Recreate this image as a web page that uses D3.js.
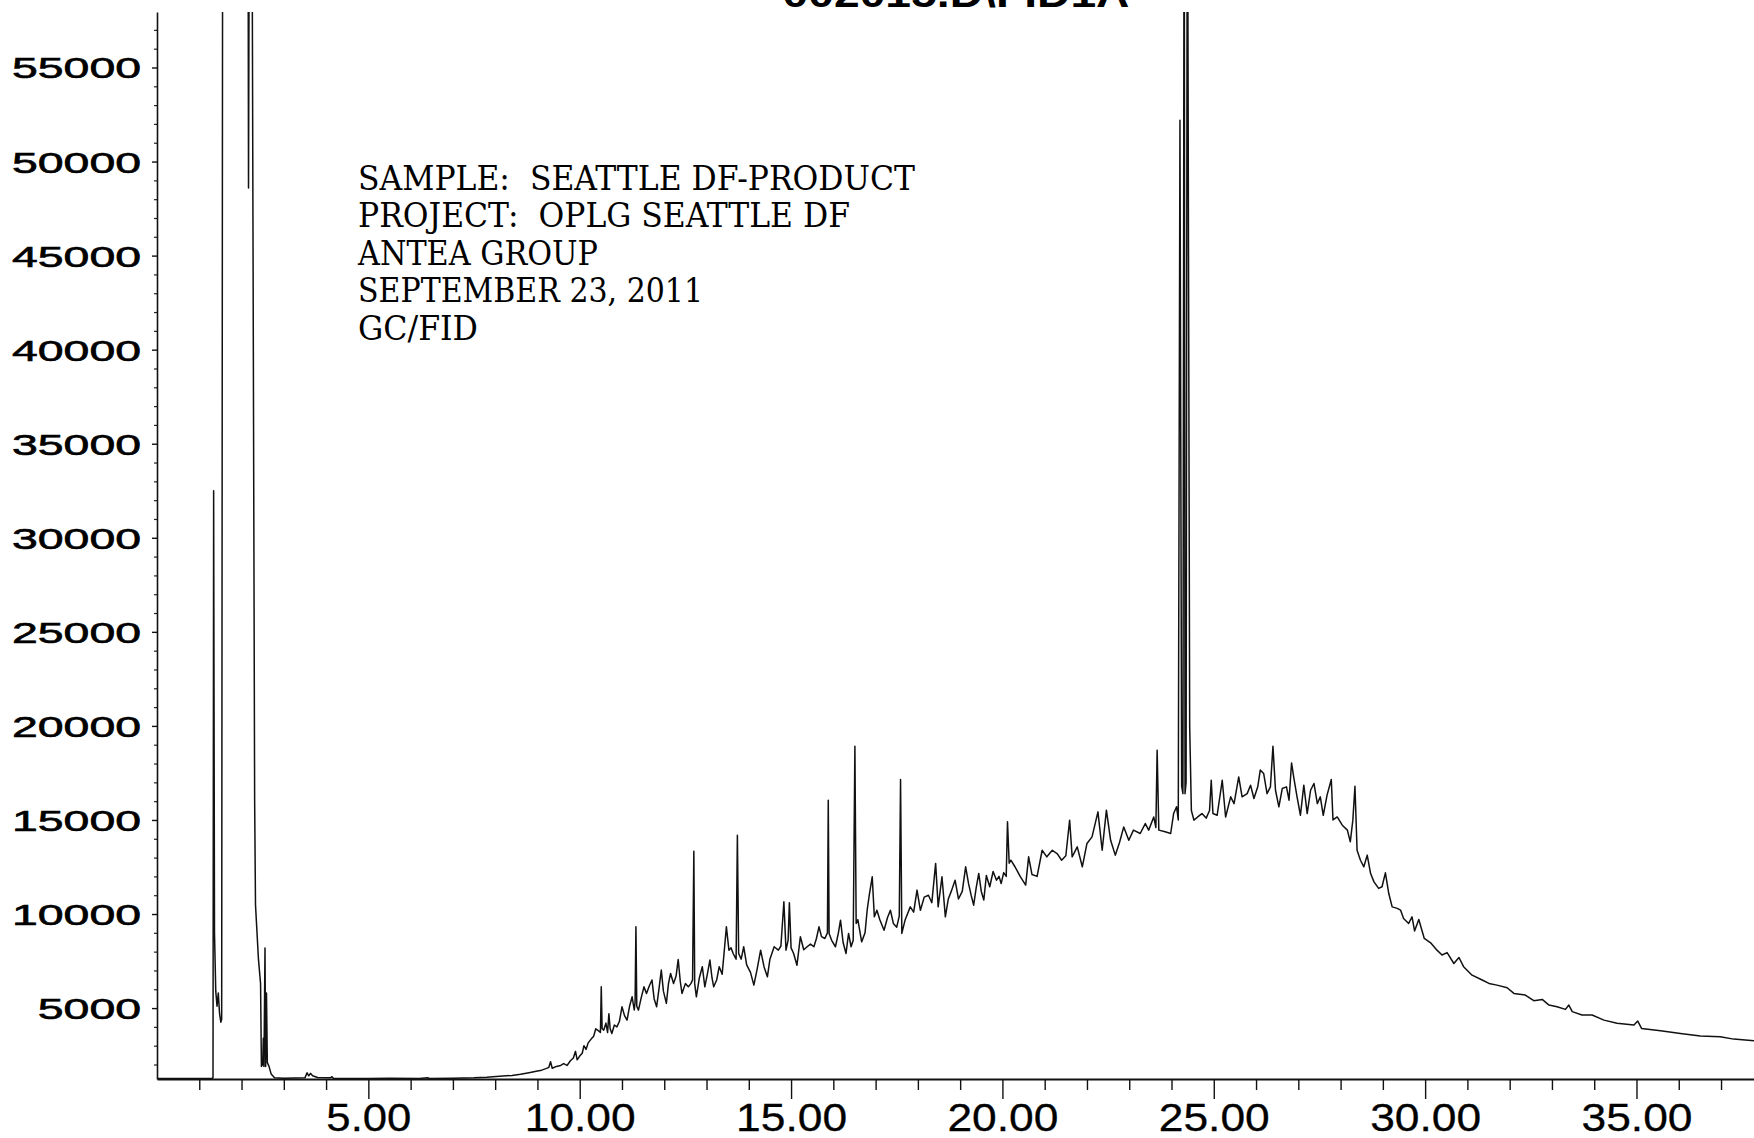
<!DOCTYPE html>
<html>
<head>
<meta charset="utf-8">
<script src="https://cdn.jsdelivr.net/npm/d3@7"></script>
<style>
  body { margin: 0; background: #fff; }
  svg { display: block; }
</style>
</head>
<body>
<div id="chromatogram"></div>
<script>
// retention time (min) and detector response
const retentionTime = [
  0.00, 1.30, 1.325, 1.34, 1.36, 1.39, 1.42, 1.45, 1.48, 1.51, 1.53, 1.555,
  2.15, 2.165, 2.19, 2.24, 2.27, 2.31, 2.33, 2.40, 2.45, 2.47, 2.50, 2.515, 2.53, 2.555, 2.57, 2.59, 2.61, 2.65, 2.70, 2.78,
  3.00, 3.50, 3.55, 3.59, 3.63, 3.68, 3.80, 4.10, 4.14, 4.17, 5.00, 5.50, 6.20, 6.40, 6.45, 7.00, 7.50, 7.80,
  8.10, 8.40, 8.60, 8.80, 9.00, 9.10, 9.20, 9.27, 9.31, 9.35, 9.45, 9.55, 9.62, 9.70, 9.78, 9.85, 9.90, 9.94,
  10.00, 10.06, 10.10, 10.15, 10.20, 10.27, 10.33, 10.38, 10.44, 10.49, 10.51, 10.53, 10.57, 10.62, 10.66, 10.69, 10.72, 10.76, 10.82, 10.88, 10.94,
  11.00, 11.06, 11.12, 11.18, 11.24, 11.29, 11.31, 11.33, 11.35, 11.39, 11.45, 11.52, 11.58, 11.65, 11.71, 11.76, 11.82, 11.88, 11.93, 11.98,
  12.05, 12.10, 12.15, 12.22, 12.28, 12.33, 12.38, 12.42, 12.50, 12.57, 12.63, 12.67, 12.70, 12.72, 12.76, 12.83, 12.90, 12.96,
  13.02, 13.08, 13.13, 13.17, 13.24, 13.30, 13.37, 13.43, 13.47, 13.53, 13.58, 13.63, 13.70, 13.73, 13.76, 13.82, 13.88, 13.95,
  14.04, 14.12, 14.20, 14.28, 14.36, 14.44, 14.50, 14.60, 14.70, 14.76, 14.83, 14.88, 14.93, 14.96,
  15.00, 15.06, 15.14, 15.22, 15.30, 15.38, 15.46, 15.54, 15.60, 15.66, 15.72, 15.80, 15.86, 15.88, 15.90, 15.96,
  16.05, 16.12, 16.17, 16.23, 16.30, 16.36, 16.42, 16.47, 16.51, 16.54, 16.58, 16.67, 16.75, 16.80, 16.85, 16.92, 16.97,
  17.03, 17.10, 17.20, 17.28, 17.35, 17.42, 17.50, 17.56, 17.59, 17.62, 17.70, 17.82, 17.90, 17.98,
  18.06, 18.15, 18.25, 18.33, 18.42, 18.48, 18.57, 18.65, 18.72, 18.80, 18.88, 18.96,
  19.05, 19.13, 19.20, 19.26, 19.32, 19.38, 19.44, 19.50, 19.56, 19.62, 19.70, 19.78, 19.86, 19.92, 19.97,
  20.03, 20.09, 20.12, 20.16, 20.20, 20.30, 20.42, 20.55, 20.62, 20.70, 20.82, 20.94,
  21.05, 21.18, 21.30, 21.40, 21.50, 21.59, 21.65, 21.77, 21.89, 22.00, 22.12, 22.26, 22.36, 22.46, 22.56, 22.67, 22.77, 22.87, 22.99,
  23.10, 23.26, 23.38, 23.46, 23.58, 23.63, 23.66, 23.70, 23.85, 23.98,
  24.05, 24.12, 24.16, 24.20, 24.24, 24.27, 24.30, 24.32, 24.345, 24.375, 24.43, 24.47, 24.53, 24.62, 24.72, 24.82, 24.90, 24.94, 24.98,
  25.08, 25.20, 25.28, 25.40, 25.48, 25.59, 25.67, 25.79, 25.87, 25.95,
  26.04, 26.10, 26.18, 26.26, 26.34, 26.40, 26.46, 26.54, 26.62, 26.72, 26.78, 26.84, 26.89, 26.97,
  27.05, 27.13, 27.21, 27.29, 27.37, 27.45, 27.52, 27.59, 27.68, 27.78, 27.82, 27.92,
  28.04, 28.16, 28.23, 28.29, 28.34, 28.39, 28.47, 28.55, 28.63, 28.71, 28.79, 28.90, 28.98,
  29.06, 29.14, 29.22, 29.34, 29.42, 29.49, 29.61, 29.69, 29.75, 29.85, 29.98,
  30.13, 30.28, 30.40, 30.52, 30.68, 30.80, 30.91, 31.11, 31.35, 31.51, 31.70, 31.94,
  32.10, 32.37, 32.57, 32.77, 32.93, 33.12, 33.32, 33.40, 33.48, 33.71, 33.95,
  34.23, 34.54, 34.94, 35.03, 35.12, 35.57, 36.04, 36.51, 36.98, 37.30, 37.78
];

const response = [
  1250, 1250, 1300, 32500, 9000, 5900, 5100, 5800, 4700, 4250, 4400, 70000,
  70000, 48600, 70000, 70000, 47000, 16000, 10500, 7600, 6300, 1900, 2000, 3400, 1900, 8200, 1900, 5800, 2100, 1900, 1500, 1300,
  1270, 1290, 1560, 1400, 1530, 1400, 1310, 1290, 1350, 1270, 1260, 1270, 1260, 1300, 1260, 1270, 1290, 1320,
  1370, 1420, 1480, 1560, 1650, 1700, 1780, 1850, 2150, 1800, 1900, 1950, 2050, 1950, 2200, 2350, 2700, 2250,
  2450, 2600, 3000, 2800, 3150, 3350, 3500, 3900, 3800, 3700, 6130, 3900, 3830, 4200, 3700, 4700, 3900, 3650, 4100, 4000, 4300,
  5070, 4600, 4360, 5100, 5600, 4900, 5300, 9320, 5100, 4890, 5500, 6130, 5780, 6200, 6490, 5500, 5070, 6100, 7020, 5900,
  5250, 6300, 6840, 6310, 6700, 7585, 6400, 5780, 6300, 6130, 6300, 6500, 13340, 6300, 5600, 6600, 7200, 6130,
  6800, 7550, 6600, 6130, 6490, 7200, 6800, 8300, 9320, 8080, 8200, 7900, 7600, 14190, 7900, 7600, 8260, 7300,
  6900, 6220, 7100, 8080, 7200, 6660, 7600, 8260, 8080, 8300, 10650, 8080, 8600, 10600,
  8200, 7900, 7280, 8790, 8100, 8260, 8400, 8260, 8700, 9320, 8800, 8700, 9000, 16050, 8970, 8600,
  8260, 9000, 9675, 8500, 7900, 8970, 8260, 8600, 18920, 9500, 9700, 8520, 9000, 10200, 11000, 11980, 9850,
  10200, 9700, 9140, 9800, 10200, 9500, 9300, 9900, 17150, 8970, 9700, 10380, 10100, 11270,
  10200, 10900, 11000, 10600, 12690, 10380, 11980, 9850, 10800, 11270, 11800, 10800,
  11200, 12510, 11600, 11000, 10470, 11400, 12160, 11200, 10750, 12050, 11450, 12260, 11800, 12000, 11620,
  12200, 12000, 14900, 12700, 12860, 12500, 12000, 11540, 13040, 12100, 12000, 13390,
  13040, 13390, 13200, 12860, 13100, 14990, 13040, 13570, 12510, 13750, 14100, 15430, 13390, 15520, 13920, 13130, 13800, 14630, 13920,
  14460, 14280, 14810, 14460, 15160, 14600, 18700, 14460, 14370, 14280,
  15340, 15700, 15000, 52200, 16800, 16400, 70000, 16400, 17000, 70000, 20000, 15500, 14990, 15160, 15340, 15100, 15500, 17110, 15340,
  15250, 17110, 15160, 16230, 15870, 17290, 16230, 16400, 16850, 16140,
  16760, 17650, 17470, 16400, 16760, 18920, 16580, 15700, 16670, 16760, 16050, 18030, 17290, 16230,
  15250, 16850, 15340, 16580, 16940, 15870, 16230, 15250, 16320, 17150, 15000, 15160,
  14720, 14460, 13840, 14990, 16790, 13390, 12860, 12510, 13130, 12150, 11710, 11360, 11450,
  12190, 11090, 10380, 10300, 10206, 9760, 9500, 9850, 9100, 9710, 8700,
  8470, 8080, 7820, 7950, 7370, 7690, 7200, 6750, 6490, 6310, 6220, 6080,
  5780, 5690, 5390, 5460, 5160, 5070, 4930, 5160, 4810, 4630, 4630,
  4360, 4190, 4100, 4310, 3920, 3800, 3650, 3510, 3480, 3350, 3265
];

const yMajorTicks = [5000, 10000, 15000, 20000, 25000, 30000, 35000, 40000, 45000, 50000, 55000];
const xMajorTicks = [5, 10, 15, 20, 25, 30, 35];
const xTickLabels = ["5.00", "10.00", "15.00", "20.00", "25.00", "30.00", "35.00"];

const fileTitle = "002015.D\\FID1A";
const sampleInfo = [
  "SAMPLE:  SEATTLE DF-PRODUCT",
  "PROJECT:  OPLG SEATTLE DF",
  "ANTEA GROUP",
  "SEPTEMBER 23, 2011",
  "GC/FID"
];
const sampleInfoWidth = [557, 492, 240, 345, 120];

// set the dimensions and margins of the graph
const margin = {top: 12, right: 0, bottom: 59, left: 157},
    width = 1754 - margin.left - margin.right,
    height = 1138 - margin.top - margin.bottom;

const root = d3.select("#chromatogram")
  .append("svg")
    .attr("width", 1754)
    .attr("height", 1138);

const svg = root.append("g")
    .attr("transform", `translate(${margin.left}, ${margin.top})`);

const data = retentionTime.map((t, i) => ({t: t, v: response[i]}));

// scales
const x = d3.scaleLinear()
  .domain([0, 37.78])
  .range([0, width]);

const y = d3.scaleLinear()
  .domain([1230, 57950])
  .range([height, 0]);

// clip so off-scale peaks stop at the top of the axis
svg.append("clipPath")
    .attr("id", "plot-clip")
  .append("rect")
    .attr("x", 0)
    .attr("y", 0)
    .attr("width", width)
    .attr("height", height);

// trace
svg.append("path")
  .datum(data)
  .attr("clip-path", "url(#plot-clip)")
  .attr("fill", "none")
  .attr("stroke", "#111")
  .attr("stroke-width", 1.5)
  .attr("stroke-linejoin", "round")
  .attr("d", d3.line().x(d => x(d.t)).y(d => y(d.v)));

// Y axis - minor ticks every 1000
const yMinor = d3.range(2000, 58000, 1000).filter(v => v % 5000 !== 0);
svg.append("g")
  .call(d3.axisLeft(y).tickValues(yMinor).tickSize(3).tickSizeOuter(0).tickFormat(""))
  .call(g => g.select(".domain").remove())
  .selectAll("line").attr("stroke", "#222").attr("stroke-width", 1.2);

const yAxis = svg.append("g")
  .call(d3.axisLeft(y).tickValues(yMajorTicks).tickSize(5).tickSizeOuter(0).tickPadding(11)
    .tickFormat(d3.format("d")));

yAxis.select(".domain").attr("stroke", "#111").attr("stroke-width", 1.6);
yAxis.selectAll("line").attr("stroke", "#111").attr("stroke-width", 1.4);
yAxis.selectAll("text")
  .attr("fill", "#000")
  .attr("stroke", "#000")
  .attr("stroke-width", 0.6)
  .style("font-family", "'Liberation Sans', Arial, sans-serif")
  .style("font-size", "29px")
  .attr("dy", "0.36em")
  .attr("lengthAdjust", "spacingAndGlyphs")
  .attr("textLength", d => String(d).length * 25.8);

// X axis - minor ticks every minute
const xMinor = d3.range(1, 38).filter(v => v % 5 !== 0);
svg.append("g")
  .attr("transform", `translate(0, ${height})`)
  .call(d3.axisBottom(x).tickValues(xMinor).tickSize(11).tickSizeOuter(0).tickFormat(""))
  .call(g => g.select(".domain").remove())
  .selectAll("line").attr("stroke", "#111").attr("stroke-width", 1.4);

const xAxis = svg.append("g")
  .attr("transform", `translate(0, ${height})`)
  .call(d3.axisBottom(x).tickValues(xMajorTicks).tickSize(20).tickSizeOuter(0).tickPadding(4)
    .tickFormat((d, i) => xTickLabels[i]));

xAxis.select(".domain").attr("stroke", "#111").attr("stroke-width", 2);
xAxis.selectAll("line").attr("stroke", "#111").attr("stroke-width", 1.4);
xAxis.selectAll("text")
  .attr("fill", "#000")
  .attr("stroke", "#000")
  .attr("stroke-width", 0.3)
  .style("font-family", "'Liberation Sans', Arial, sans-serif")
  .style("font-size", "39px")
  .attr("lengthAdjust", "spacingAndGlyphs")
  .attr("textLength", (d, i) => xTickLabels[i].length === 4 ? 85 : 111);

// file title, mostly cut off at the top edge as in the printout
root.append("text")
  .attr("x", 956)
  .attr("y", 7)
  .attr("text-anchor", "middle")
  .style("font-family", "'Liberation Sans', Arial, sans-serif")
  .style("font-weight", "bold")
  .style("font-size", "36px")
  .attr("lengthAdjust", "spacingAndGlyphs")
  .attr("textLength", 347)
  .text(fileTitle);

// sample annotation
root.append("g")
  .selectAll("text")
  .data(sampleInfo)
  .join("text")
    .attr("x", 358)
    .attr("y", (d, i) => 190 + i * 37.4)
    .style("font-family", "'DejaVu Serif', 'Liberation Serif', serif")
    .style("font-size", "33px")
    .style("white-space", "pre")
    .attr("fill", "#000")
    .attr("lengthAdjust", "spacingAndGlyphs")
    .attr("textLength", (d, i) => sampleInfoWidth[i])
    .text(d => d);
</script>
</body>
</html>
